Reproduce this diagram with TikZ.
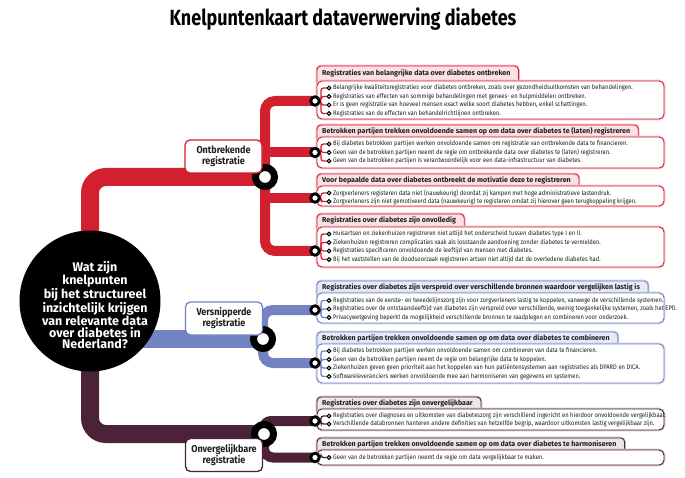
\documentclass[tikz,border=0pt]{standalone}
\usepackage{fontspec}
\setmainfont{Fira Sans}
\newfontfamily\condfont{Fira Sans}[FakeStretch=0.82]
\newfontfamily\labfont{Fira Sans}[FakeStretch=0.9]
\newfontfamily\itemfont{Fira Sans}[FakeStretch=0.895]
\definecolor{cR}{HTML}{D2202F}
\definecolor{cRl}{HTML}{FBE1E4}
\definecolor{cRh}{HTML}{F6C3CA}
\definecolor{cB}{HTML}{7383C2}
\definecolor{cBl}{HTML}{E7EAF6}
\definecolor{cBh}{HTML}{CDD3EC}
\definecolor{cP}{HTML}{4B2238}
\definecolor{cPl}{HTML}{EEE5EA}
\definecolor{cPh}{HTML}{D8C8D1}
\definecolor{txt}{HTML}{1E1E1E}
\pgfdeclarelayer{bg}
\pgfdeclarelayer{boxes}
\pgfdeclarelayer{conns}
\pgfsetlayers{bg,boxes,conns,main}
\tikzset{
  tabR/.style={draw=cR,fill=cRl,line width=0.9,rounded corners=4,preaction={draw=cRh,line width=2.6}},
  tabB/.style={draw=cB,fill=cBl,line width=0.9,rounded corners=4,preaction={draw=cBh,line width=2.6}},
  tabP/.style={draw=cP,fill=cPl,line width=0.9,rounded corners=4,preaction={draw=cPh,line width=2.6}},
  boxR/.style={draw=cR,fill=white,line width=0.9,rounded corners=5,preaction={draw=cRh,line width=2.6}},
  boxB/.style={draw=cB,fill=white,line width=0.9,rounded corners=5,preaction={draw=cBh,line width=2.6}},
  boxP/.style={draw=cP,fill=white,line width=0.9,rounded corners=5,preaction={draw=cPh,line width=2.6}},
  connR/.style={draw=cR,line width=1.3,rounded corners=2.5},
  connB/.style={draw=cB,line width=1.3,rounded corners=2.5},
  connP/.style={draw=cP,line width=1.3,rounded corners=2.5},
  bulletstyle/.style={circle,draw=black,fill=white,line width=1.1,minimum size=3.8,inner sep=0},
  bigring/.style={circle,draw=black,fill=white,line width=2.8,minimum size=8.5,inner sep=0},
  mainring/.style={circle,draw=black,fill=white,line width=7,minimum size=19,inner sep=0},
  itemtext/.style={anchor=west,inner sep=0,text=txt,font=\itemfont\fontsize{6.5}{7.5}\selectfont},
  tabtext/.style={anchor=west,inner sep=0,text=txt,font=\bfseries\fontsize{7.1}{8}\selectfont},
  labbox/.style={draw=#1,fill=white,line width=1.3,rounded corners=5,minimum width=77,minimum height=33,align=center,text=txt,font=\labfont\bfseries\fontsize{10}{11}\selectfont,inner sep=0},
  mainbar/.style={draw=#1,line width=18,rounded corners=16},
  subbar/.style={draw=#1,line width=10,rounded corners=10},
}
\newcommand\kngroup[6]{%
  \node[tabtext] (#2t) at (322,{(#3+#4)/2}) {#6};
  \begin{pgfonlayer}{boxes}
  \draw[tab#1] (317,#3) rectangle ([xshift=8]#2t.east |- 0,#4+6);
  \draw[box#1] (317,#4) rectangle (664,#5);
  \end{pgfonlayer}
}
\newcommand\knitem[5]{%
  \node[bulletstyle] (#4) at (329,#3) {};
  \node[itemtext] (#4x) at (333,#3) {#5};
  \begin{pgfonlayer}{conns}\draw[conn#1] (#2.center) -- ++(6,0) |- (#4);\end{pgfonlayer}
}
\begin{document}
\begin{tikzpicture}[x=1pt,y=-1pt]
\useasboundingbox (0,0) rectangle (685,478);
\begin{pgfonlayer}{bg}
\fill[white] (0,0) rectangle (685,478);
\end{pgfonlayer}

\node[font=\condfont\bfseries\fontsize{21.9}{24}\selectfont,text=black] (title) at (343,19) {Knelpuntenkaart dataverwerving diabetes};

% central question
\node[circle,fill=black,minimum size=141,inner sep=0] (q) at (90,301) {};
\node[align=center,text=white,font=\bfseries\fontsize{12.5}{11.4}\selectfont,inner sep=0] (qt) at (95,305) {Wat zijn\\knelpunten\\bij het structureel\\inzichtelijk krijgen\\van relevante data\\over diabetes in\\Nederland?};

% main rings positions
\coordinate (mRc) at (265,177);
\coordinate (mBc) at (263,339);
\coordinate (mPc) at (264,434);

% group rings
\coordinate (g1c) at (315,101);
\coordinate (g2c) at (315,152.5);
\coordinate (g3c) at (315,198);
\coordinate (g4c) at (315,251);
\coordinate (g5c) at (315,310);
\coordinate (g6c) at (315,363);
\coordinate (g7c) at (315,421);
\coordinate (g8c) at (315,457.5);

\begin{pgfonlayer}{conns}
\draw[mainbar=cR] (q.center) -- (q.center |- mRc) -- (mRc);
\draw[mainbar=cB] (q.center |- mBc) -- (mBc);
\draw[mainbar=cP] (q.center) -- (q.center |- mPc) -- (mPc);
\draw[subbar=cR] (g1c) -| (mRc);
\draw[subbar=cR] (g4c) -| (mRc);
\draw[subbar=cR] (g2c) -- (g2c -| mRc);
\draw[subbar=cR] (g3c) -- (g3c -| mRc);
\draw[subbar=cB] (g5c) -| (mBc);
\draw[subbar=cB] (g6c) -| (mBc);
\draw[subbar=cP,rounded corners=7] (g7c) -| (mPc);
\draw[subbar=cP,rounded corners=9] (g8c) -| (mPc);
\end{pgfonlayer}

\node[mainring] (mR) at (mRc) {};
\node[mainring] (mB) at (mBc) {};
\node[mainring] (mP) at (mPc) {};

\node[labbox=cR] (lR) at (223.5,156.5) {Ontbrekende\\registratie};
\node[labbox=cB] (lB) at (224,318.5) {Versnipperde\\registratie};
\node[labbox=cP] (lP) at (224,455) {Onvergelijkbare\\registratie};

% ---- group 1
\kngroup{R}{G1}{66}{81}{119}{Registraties van belangrijke data over diabetes ontbreken}
\knitem{R}{g1c}{88}{a1}{Belangrijke kwaliteitsregistraties voor diabetes ontbreken, zoals over gezondheidsuitkomsten van behandelingen.}
\knitem{R}{g1c}{96.5}{a2}{Registraties van effecten van sommige behandelingen met genees- en hulpmiddelen ontbreken.}
\knitem{R}{g1c}{105}{a3}{Er is geen registratie van hoeveel mensen exact welke soort diabetes hebben, enkel schattingen.}
\knitem{R}{g1c}{113.5}{a4}{Registraties van de effecten van behandelrichtlijnen ontbreken.}
\node[bigring] (g1) at (g1c) {};

% ---- group 2
\kngroup{R}{G2}{125}{137}{168}{Betrokken partijen trekken onvoldoende samen op om data over diabetes te (laten) registreren}
\knitem{R}{g2c}{144}{b1}{Bij diabetes betrokken partijen werken onvoldoende samen om registratie van ontbrekende data te financieren.}
\knitem{R}{g2c}{152.5}{b2}{Geen van de betrokken partijen neemt de regie om ontbrekende data over diabetes te (laten) registreren.}
\knitem{R}{g2c}{161}{b3}{Geen van de betrokken partijen is verantwoordelijk voor een data-infrastructuur van diabetes.}
\node[bigring] (g2) at (g2c) {};

% ---- group 3
\kngroup{R}{G3}{174}{186}{206}{Voor bepaalde data over diabetes ontbreekt de motivatie deze te registreren}
\knitem{R}{g3c}{193}{c1}{Zorgverleners registeren data niet (nauwkeurig) doordat zij kampen met hoge administratieve lastendruk.}
\knitem{R}{g3c}{201.5}{c2}{Zorgverleners zijn niet gemotiveerd data (nauwkeurig) te registeren omdat zij hierover geen terugkoppeling krijgen.}
\node[bigring] (g3) at (g3c) {};

% ---- group 4
\kngroup{R}{G4}{214}{227}{267}{Registraties over diabetes zijn onvolledig}
\knitem{R}{g4c}{234}{d1}{Huisartsen en ziekenhuizen registreren niet altijd het onderscheid tussen diabetes type I en II.}
\knitem{R}{g4c}{242.5}{d2}{Ziekenhuizen registreren complicaties vaak als losstaande aandoening zonder diabetes te vermelden.}
\knitem{R}{g4c}{251}{d3}{Registraties specificeren onvoldoende de leeftijd van mensen met diabetes.}
\knitem{R}{g4c}{259.5}{d4}{Bij het vaststellen van de doodsoorzaak registreren artsen niet altijd dat de overledene diabetes had.}
\node[bigring] (g4) at (g4c) {};

% ---- group 5
\kngroup{B}{G5}{281}{293}{323}{Registraties over diabetes zijn verspreid over verschillende bronnen waardoor vergelijken lastig is}
\knitem{B}{g5c}{300.5}{e1}{Registraties van de eerste- en tweedelijnszorg zijn voor zorgverleners lastig te koppelen, vanwege de verschillende systemen.}
\knitem{B}{g5c}{309}{e2}{Registraties over de ontstaansleeftijd van diabetes zijn verspreid over verschillende, weinig toegankelijke systemen, zoals het EPD.}
\knitem{B}{g5c}{317.5}{e3}{Privacywetgeving beperkt de mogelijkheid verschillende bronnen te raadplegen en combineren voor onderzoek.}
\node[bigring] (g5) at (g5c) {};

% ---- group 6
\kngroup{B}{G6}{332}{344}{383}{Betrokken partijen trekken onvoldoende samen op om data over diabetes te combineren}
\knitem{B}{g6c}{351}{f1}{Bij diabetes betrokken partijen werken onvoldoende samen om combineren van data te financieren.}
\knitem{B}{g6c}{359.5}{f2}{Geen van de betrokken partijen neemt de regie om belangrijke data te koppelen.}
\knitem{B}{g6c}{368}{f3}{Ziekenhuizen geven geen prioriteit aan het koppelen van hun patiëntensystemen aan registraties als DPARD en DICA.}
\knitem{B}{g6c}{376.5}{f4}{Softwareleveranciers werken onvoldoende mee aan harmoniseren van gegevens en systemen.}
\node[bigring] (g6) at (g6c) {};

% ---- group 7
\kngroup{P}{G7}{397}{409}{430}{Registraties over diabetes zijn onvergelijkbaar}
\knitem{P}{g7c}{416}{h1}{Registraties over diagnoses en uitkomsten van diabeteszorg zijn verschillend ingericht en hierdoor onvoldoende vergelijkbaar.}
\knitem{P}{g7c}{424}{h2}{Verschillende databronnen hanteren andere definities van hetzelfde begrip, waardoor uitkomsten lastig vergelijkbaar zijn.}
\node[bigring] (g7) at (g7c) {};

% ---- group 8
\kngroup{P}{G8}{438}{450}{465}{Betrokken partijen trekken onvoldoende samen op om data over diabetes te harmoniseren}
\knitem{P}{g8c}{457.5}{k1}{Geen van de betrokken partijen neemt de regie om data vergelijkbaar te maken.}
\node[bigring] (g8) at (g8c) {};
\end{tikzpicture}
\end{document}
